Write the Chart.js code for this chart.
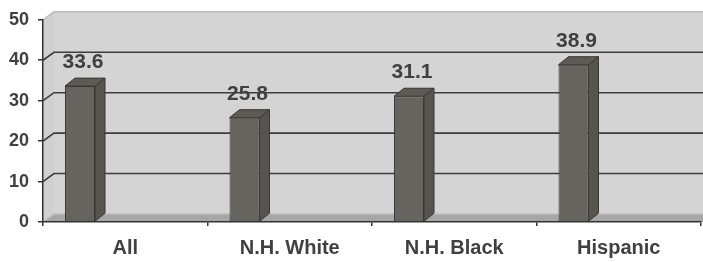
<!DOCTYPE html>
<html>
<head>
<meta charset="utf-8">
<script src="https://cdn.jsdelivr.net/npm/chart.js@4.4.1/dist/chart.umd.min.js"></script>
<style>
  html, body { margin: 0; padding: 0; background: #fff; }
  canvas { display: block; }
</style>
</head>
<body>
<canvas id="grafico" width="703" height="262"></canvas>
<script>
/* ================= Dados ================= */
const categorias = ['All', 'N.H. White', 'N.H. Black', 'Hispanic'];
const valores    = [33.6, 25.8, 31.1, 38.9];
const ticksY     = [0, 10, 20, 30, 40, 50];

/* ================= Aparência 3D ================= */
const FONTE = '"Liberation Sans", Arial, sans-serif';
const COR_TEXTO = '#404040';
const PAREDE_DX = 11, PAREDE_DY = 8;   // profundidade das paredes
const BARRA_DX = 10, BARRA_DY = 8;     // profundidade das barras

function poligono(ctx, pts, fill, stroke, lw) {
  ctx.beginPath();
  ctx.moveTo(pts[0][0], pts[0][1]);
  for (let i = 1; i < pts.length; i++) ctx.lineTo(pts[i][0], pts[i][1]);
  ctx.closePath();
  if (fill) { ctx.fillStyle = fill; ctx.fill(); }
  if (stroke) { ctx.strokeStyle = stroke; ctx.lineWidth = lw || 1; ctx.stroke(); }
}

/* paredes, piso e grades atrás das barras */
const fundo3d = {
  id: 'fundo3d',
  beforeDraw(chart) {
    const { ctx, chartArea: a, scales: { y } } = chart;
    const W = chart.width;
    ctx.save();
    ctx.fillStyle = '#fff';
    ctx.fillRect(0, 0, W, chart.height);

    // parede do fundo
    ctx.fillStyle = '#d4d4d4';
    ctx.fillRect(a.left + PAREDE_DX, a.top - PAREDE_DY, W - a.left - PAREDE_DX, a.bottom - a.top);
    // parede lateral
    poligono(ctx, [[a.left, a.top], [a.left + PAREDE_DX, a.top - PAREDE_DY],
                   [a.left + PAREDE_DX, a.bottom - PAREDE_DY], [a.left, a.bottom]], '#d0d0d0');
    // piso
    poligono(ctx, [[a.left, a.bottom], [a.left + PAREDE_DX, a.bottom - PAREDE_DY],
                   [W, a.bottom - PAREDE_DY], [W, a.bottom]], '#a6a6a6');

    // linhas de grade
    const vmax = ticksY[ticksY.length - 1];
    ticksY.forEach(v => {
      const py = y.getPixelForValue(v);
      const clara = v === 0 || v === vmax;
      ctx.beginPath();
      ctx.moveTo(a.left, py);
      ctx.lineTo(a.left + PAREDE_DX, py - PAREDE_DY);
      ctx.lineTo(W, py - PAREDE_DY);
      ctx.strokeStyle = clara ? '#bdbdbd' : '#3c3c3c';
      ctx.lineWidth = clara ? 1.5 : 1.6;
      ctx.stroke();
    });
    ctx.restore();
  }
};

/* faces laterais/topo das barras e rótulos de valor */
const barras3d = {
  id: 'barras3d',
  afterDatasetsDraw(chart) {
    const { ctx } = chart;
    const meta = chart.getDatasetMeta(0);
    ctx.save();
    meta.data.forEach((bar, i) => {
      const { x, y, base, width } = bar.getProps(['x', 'y', 'base', 'width'], true);
      const esq = x - width / 2, dir = x + width / 2;
      poligono(ctx, [[dir, y], [dir + BARRA_DX, y - BARRA_DY], [dir + BARRA_DX, base - BARRA_DY], [dir, base]],
               '#57534f', '#3a3735', 1);
      poligono(ctx, [[esq, y], [esq + BARRA_DX, y - BARRA_DY], [dir + BARRA_DX, y - BARRA_DY], [dir, y]],
               '#5e5a56', '#3a3735', 1);

      ctx.fillStyle = COR_TEXTO;
      ctx.font = 'bold 21px ' + FONTE;
      ctx.textAlign = 'center';
      ctx.textBaseline = 'alphabetic';
      ctx.fillText(valores[i].toFixed(1), x + 3, y - 18);
    });
    ctx.restore();
  }
};

/* ================= Gráfico ================= */
const vazio = categorias.map(() => null);

new Chart(document.getElementById('grafico'), {
  type: 'bar',
  data: {
    labels: categorias,
    datasets: [
      { data: valores, backgroundColor: '#67635f', borderColor: '#3a3735', borderWidth: 1 },
      // espaçadores: empurram a barra para a esquerda como no 3D do Excel
      { data: vazio, backgroundColor: 'transparent', borderWidth: 0 },
      { data: vazio, backgroundColor: 'transparent', borderWidth: 0 }
    ]
  },
  options: {
    responsive: false,
    animation: false,
    devicePixelRatio: 1,
    categoryPercentage: 0.825,
    barPercentage: 0.663,
    layout: { padding: { top: 18, right: 2, left: 0, bottom: 0 } },
    plugins: { legend: { display: false }, tooltip: { enabled: false } },
    scales: {
      x: {
        grid: { offset: true, drawOnChartArea: false, drawTicks: true, tickLength: 4, color: '#333', lineWidth: 1.5 },
        border: { color: '#333', width: 1.5 },
        ticks: { color: COR_TEXTO, font: { family: FONTE, size: 20, weight: 'bold' }, padding: 10, maxRotation: 0 },
        afterFit(s) { s.height = 40; }
      },
      y: {
        min: ticksY[0],
        max: ticksY[ticksY.length - 1],
        afterBuildTicks(s) { s.ticks = ticksY.map(v => ({ value: v })); },
        grid: { drawOnChartArea: false, drawTicks: true, tickLength: 5, color: '#333', lineWidth: 1.5 },
        border: { color: '#333', width: 1.5 },
        ticks: { color: COR_TEXTO, font: { family: FONTE, size: 18, weight: 'bold' }, padding: 9 },
        afterFit(s) { s.width = 43; }
      }
    }
  },
  plugins: [fundo3d, barras3d]
});
</script>
</body>
</html>
